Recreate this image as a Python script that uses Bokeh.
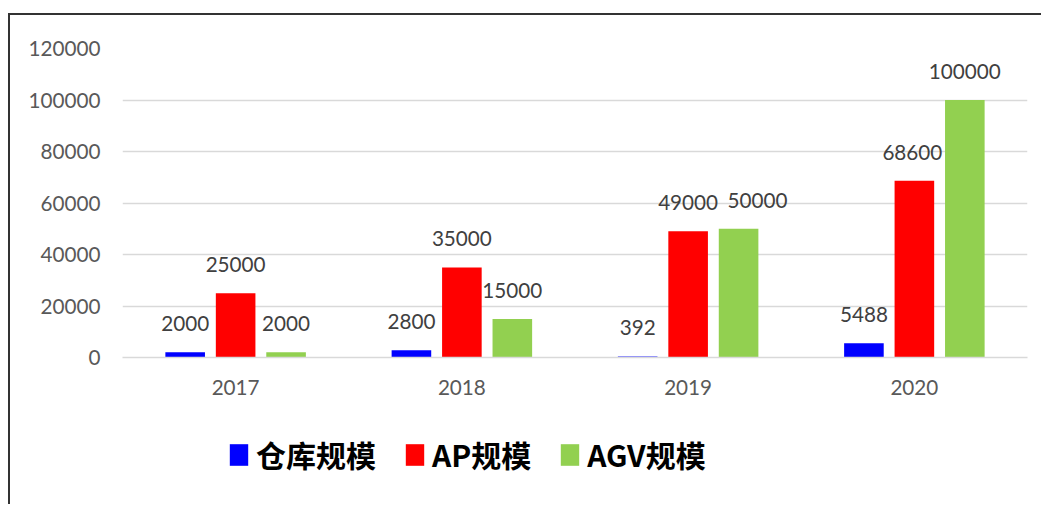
from bokeh.plotting import figure
from bokeh.layouts import column
from bokeh.models import (ColumnDataSource, FactorRange, Range1d, FixedTicker, NumeralTickFormatter,
                          LabelSet, Legend, LegendItem)
from bokeh.core.properties import value
from bokeh.transform import dodge
from bokeh.embed import file_html
from bokeh.resources import INLINE

years = ["2017", "2018", "2019", "2020"]
warehouse = [2000, 2800, 392, 5488]
ap = [25000, 35000, 49000, 68600]
agv = [2000, 15000, 50000, 100000]
series_names = ["仓库规模", "AP规模", "AGV规模"]
colors = ["#0000FF", "#FF0000", "#92D050"]
y_ticks = [0, 20000, 40000, 60000, 80000, 100000, 120000]

src = ColumnDataSource(dict(
    year=years, warehouse=warehouse, ap=ap, agv=agv,
    warehouse_l=[str(v) for v in warehouse],
    ap_l=[str(v) for v in ap],
    agv_l=[str(v) for v in agv],
))
# label nudges (style only): the 2019 AGV label is moved right to clear its neighbour
src.data["warehouse_dx"] = [0, 0, 0, 0]
src.data["ap_dx"] = [0, 0, 0, -2]
src.data["agv_dx"] = [0, 0, 19, 0]

border = "2px solid #333333"
p = figure(x_range=FactorRange(*years, range_padding=0), y_range=(0, 120000),
           width=1033, height=392, output_backend="svg", toolbar_location=None,
           min_border_left=112, min_border_right=16, min_border_top=33, min_border_bottom=50)
p.margin = (13, 0, 0, 8)
p.styles = {"border-top": border, "border-left": border}
p.outline_line_color = None
p.background_fill_color = "white"
p.border_fill_color = "white"

offsets = [-0.223, 0.0, 0.223]
fields = ["warehouse", "ap", "agv"]
bw = 0.175
for f, off, c in zip(fields, offsets, colors):
    p.vbar(x=dodge("year", off, range=p.x_range), top=f, width=bw, source=src,
           fill_color=c, line_color=None)
    labels = LabelSet(x=dodge("year", off, range=p.x_range), y=f, text=f + "_l", source=src,
                      x_offset=f + "_dx",
                      text_align="center", text_baseline="alphabetic", y_offset=21,
                      text_font=value("Lato"), text_font_size="20.7px", text_color="#404040")
    p.add_layout(labels)

p.xgrid.grid_line_color = None
p.ygrid.grid_line_color = "#d9d9d9"
p.ygrid.grid_line_width = 1.5
p.yaxis.ticker = FixedTicker(ticks=y_ticks)
p.yaxis.formatter = NumeralTickFormatter(format="0")
p.yaxis.axis_line_color = None
p.yaxis.major_tick_line_color = None
p.yaxis.minor_tick_line_color = None
p.yaxis.major_tick_out = 0
p.yaxis.major_label_standoff = 22
p.xaxis.axis_line_color = "#d9d9d9"
p.xaxis.axis_line_width = 1.5
p.xaxis.major_tick_line_color = None
p.xaxis.major_tick_out = 0
p.xaxis.major_label_standoff = 22
for ax in (p.xaxis, p.yaxis):
    ax.major_label_text_font = "Lato"
    ax.major_label_text_font_size = "20.7px"
    ax.major_label_text_color = "#595959"

# legend strip below the chart (frames of a column are aligned)
p2 = figure(width=1033, height=99, output_backend="svg", toolbar_location=None,
            x_range=FactorRange(*years, range_padding=0), y_range=Range1d(0, 1),
            x_axis_type=None, y_axis_type=None, min_border=0)
p2.margin = (0, 0, 0, 8)
p2.styles = {"border-left": border}
p2.outline_line_color = None
p2.background_fill_color = "white"
p2.border_fill_color = "white"
p2.xgrid.visible = False
p2.ygrid.visible = False
swatches = []
for f, off, c in zip(fields, offsets, colors):
    r = p2.vbar(x=dodge("year", off, range=p2.x_range), top=f, width=bw, source=src,
                fill_color=c, line_color=None, visible=False)
    swatches.append(r)

legend = Legend(items=[LegendItem(label=n, renderers=[r]) for n, r in zip(series_names, swatches)],
                orientation="horizontal", location=(105, 28),
                padding=0, margin=0, spacing=27, label_standoff=6,
                glyph_width=23, glyph_height=27,
                label_text_font="Noto Sans CJK SC", label_text_font_style="bold",
                label_text_font_size="30px", label_text_color="#000000",
                border_line_color=None, background_fill_alpha=0)
p2.add_layout(legend, "center")

layout = column(p, p2, spacing=0)
open("out.html", "w").write(file_html(layout, INLINE))
